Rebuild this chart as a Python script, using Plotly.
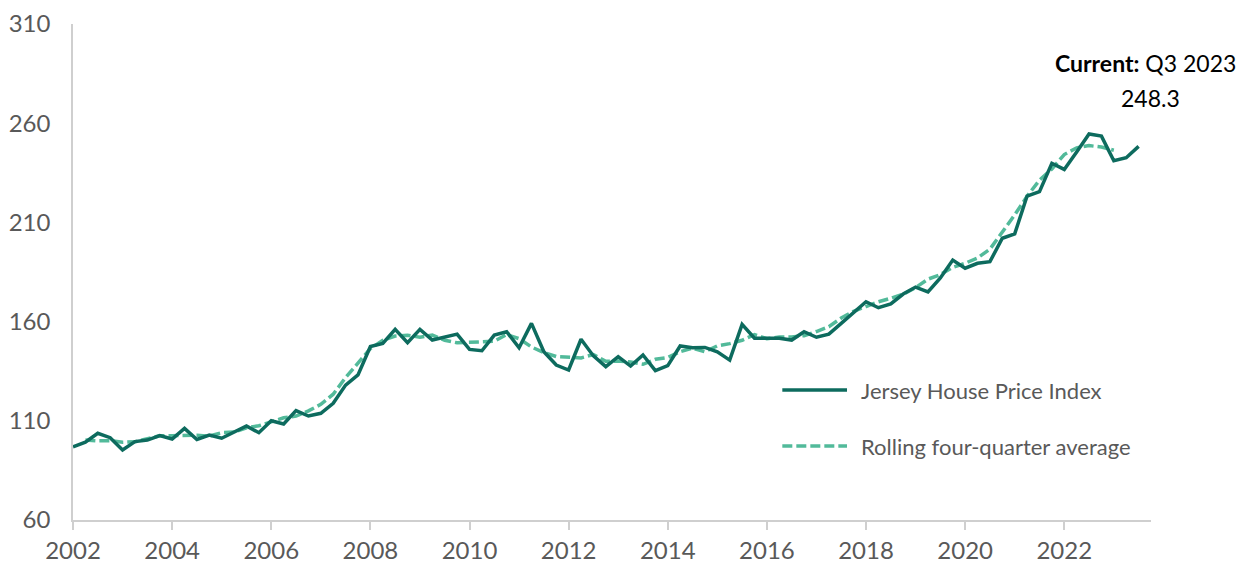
import plotly.graph_objects as go

# Quarters Q1 2002 .. Q3 2023
years = [y for y in range(2002, 2024) for _ in range(4)][:87]
quarters = [q for _ in range(2002, 2024) for q in (1, 2, 3, 4)][:87]

hpi = [96.9, 99.2, 103.7, 101.5, 95.3, 99.5, 100.3, 102.5, 100.8, 106.2,
       100.6, 102.8, 101.2, 104.5, 107.4, 104.0, 110.0, 108.4, 115.1, 112.4,
       113.8, 118.8, 128.0, 133.1, 147.4, 149.0, 156.1, 149.4, 156.1, 150.7,
       152.1, 153.7, 146.0, 145.3, 153.2, 154.9, 146.8, 159.1, 144.8, 138.1,
       135.6, 151.1, 142.7, 137.3, 142.3, 137.6, 143.2, 135.3, 137.8, 147.7,
       146.8, 147.0, 144.8, 140.6, 158.6, 151.6, 151.6, 151.6, 150.7, 154.9,
       152.1, 153.7, 159.1, 164.5, 170.0, 167.0, 168.9, 173.9, 177.4, 175.0,
       182.0, 191.0, 186.9, 189.4, 190.2, 202.0, 204.2, 223.3, 225.5, 239.8,
       236.7, 245.5, 254.6, 253.5, 241.1, 242.6, 248.3]

# Rolling four-quarter average, plotted from the 2nd to the 85th quarter
avg_start = 1
rolling = [100.3, 99.9, 100.0, 99.2, 99.4, 100.8, 102.5, 102.5, 102.6, 102.7,
           102.3, 104.0, 104.3, 106.5, 107.5, 109.4, 111.5, 112.4, 115.0, 118.3,
           123.4, 131.8, 139.4, 146.4, 150.5, 152.7, 153.1, 152.1, 153.2, 150.6,
           149.3, 149.6, 149.9, 150.1, 153.5, 151.4, 147.2, 144.4, 142.4, 141.9,
           141.7, 143.4, 140.0, 140.1, 139.6, 138.5, 141.0, 141.9, 144.8, 146.6,
           144.8, 147.8, 148.9, 150.6, 153.4, 151.4, 152.2, 152.3, 152.9, 155.0,
           157.4, 161.8, 165.2, 167.6, 170.0, 171.8, 173.8, 177.1, 181.4, 183.7,
           187.3, 189.4, 192.1, 196.5, 204.9, 213.8, 223.2, 231.3, 236.9, 244.2,
           247.6, 248.7, 248.0, 246.4]

tick_years = list(range(2002, 2023, 2))
y_ticks = [60, 110, 160, 210, 260, 310]

x_all = [y + (q - 1) / 4 for y, q in zip(years, quarters)]
x_avg = x_all[avg_start:avg_start + len(rolling)]

DARK = "#0D6B5E"
LIGHT = "#52BA9A"
GREY = "#595959"
FONT = "Lato"

fig = go.Figure()
fig.add_trace(go.Scatter(x=x_avg, y=rolling, mode="lines",
                         line=dict(color=LIGHT, width=3.5, dash="10px,4px"),
                         name="Rolling four-quarter average", showlegend=False))
fig.add_trace(go.Scatter(x=x_all, y=hpi, mode="lines",
                         line=dict(color=DARK, width=3.5),
                         name="Jersey House Price Index", showlegend=False))

# custom legend
leg = [("Jersey House Price Index", DARK, "solid", 0.262),
       ("Rolling four-quarter average", LIGHT, "10px,4px", 0.149)]
for label, col, dash, yp in leg:
    fig.add_shape(type="line", xref="paper", yref="paper",
                  x0=0.658, x1=0.718, y0=yp, y1=yp,
                  line=dict(color=col, width=3.5, dash=dash))
    fig.add_annotation(xref="paper", yref="paper", x=0.7295, y=yp,
                       xanchor="left", yanchor="middle", showarrow=False,
                       text=label, font=dict(family=FONT, size=22, color=GREY))

fig.add_annotation(xref="paper", yref="paper", x=(1145 - 73) / 1078, y=(520 - 63) / 496,
                   xanchor="center", yanchor="middle", showarrow=False,
                   text="<b>Current:</b> Q3 2023",
                   font=dict(family=FONT, size=23, color="#000000"))
fig.add_annotation(xref="paper", yref="paper", x=(1150 - 73) / 1078, y=(520 - 98) / 496,
                   xanchor="center", yanchor="middle", showarrow=False,
                   text="248.3",
                   font=dict(family=FONT, size=23, color="#000000"))

# page body adds an 8px offset; margins compensate so the plot area sits at
# x 73..1151, y 24..520 in the window
fig.update_layout(
    width=1251, height=564,
    margin=dict(l=65, r=108, t=16, b=52, autoexpand=False),
    paper_bgcolor="white", plot_bgcolor="white",
    font=dict(family=FONT, size=24, color=GREY),
)
fig.update_xaxes(range=[2002, 2023.75], tickvals=tick_years,
                 ticktext=[str(t) for t in tick_years],
                 showgrid=False, zeroline=False, automargin=False,
                 showline=True, linecolor="#CFCFCF", linewidth=1.5,
                 ticks="outside", ticklen=8, tickcolor="#CFCFCF", tickwidth=1.5,
                 tickfont=dict(family=FONT, size=24, color=GREY))
fig.update_yaxes(range=[60, 310], tickvals=y_ticks,
                 showgrid=False, zeroline=False, automargin=False,
                 showline=True, linecolor="#CFCFCF", linewidth=1.5,
                 ticks="", ticklabelstandoff=16,
                 tickfont=dict(family=FONT, size=24, color=GREY))

fig.write_html("out.html")
